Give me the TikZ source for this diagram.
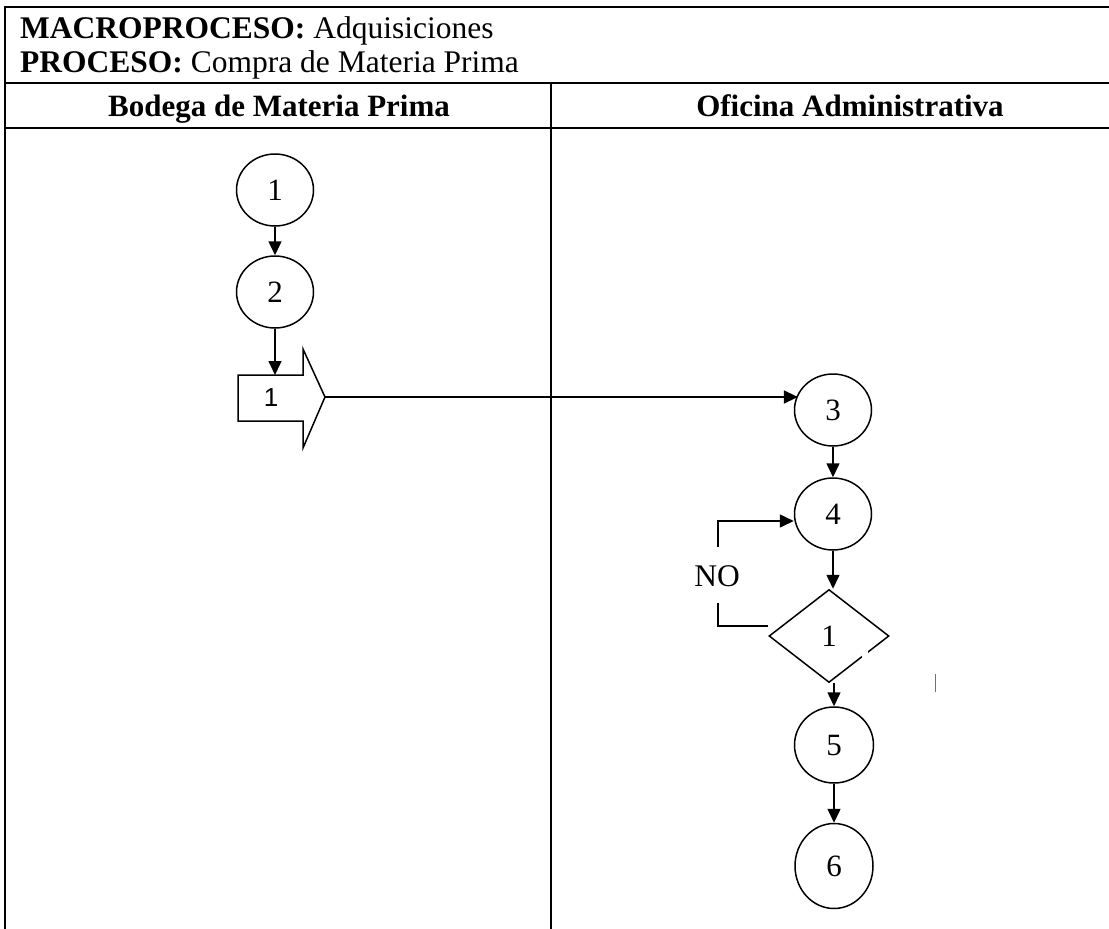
\documentclass[tikz,border=0pt]{standalone}
\usepackage{fontspec}
\setmainfont{Liberation Serif}
\newfontfamily\arrowfont{Liberation Sans}
\usetikzlibrary{shapes.geometric,arrows.meta}
\begin{document}
\begin{tikzpicture}[x=1pt,y=-1pt,
  rule/.style={line width=2.6pt},
  wire/.style={line width=1.5pt},
  conn/.style={line width=1.5pt,-{Triangle[length=14pt,width=13pt]}},
  txt/.style={inner sep=0pt,font=\fontsize{31.5}{36}\selectfont},
  lanetxt/.style={inner sep=0pt,font=\fontsize{31}{36}\selectfont\bfseries},
  proc/.style={draw,line width=1.5pt,ellipse,inner sep=0pt,
    minimum width=77pt,minimum height=72pt,font=\fontsize{31}{36}\selectfont},
  decide/.style={draw,line width=1.5pt,diamond,inner sep=0pt,
    minimum width=120pt,minimum height=93pt,font=\fontsize{31}{36}\selectfont}]
\useasboundingbox (0,0) rectangle (1109,929);

% table frame
\draw[rule] (5,929) -- (5,7) -- (1109,7);
\draw[rule] (5,83) -- (1109,83);
\draw[rule] (5,128) -- (1109,128);
\draw[rule] (551,83) -- (551,929);

% header texts
\node[txt,anchor=base west] (macro) at (20,38) {\textbf{MACROPROCESO:} Adquisiciones};
\node[txt,anchor=base west] (proceso) at (20,72) {\textbf{PROCESO:} Compra de Materia Prima};
\node[lanetxt,anchor=base] (lane1) at (279,116) {Bodega de Materia Prima};
\node[lanetxt,anchor=base] (lane2) at (850,116) {Oficina Administrativa};

% warehouse lane
\node[proc] (c1) at (275,190) {1};
\node[proc] (c2) at (275,292) {2};

% transport arrow
\coordinate (ba-top) at (275,375);
\coordinate (ba-tip) at (325,397);
\draw[wire,line join=miter] (238,375) -- (303,375) -- (303,349) -- (ba-tip)
  -- (303,448) -- (303,421) -- (238,421) -- cycle;
\node[inner sep=0pt,font=\arrowfont\fontsize{26}{30}\selectfont] (ba) at (271,398) {1};

% office lane
\node[proc] (c3) at (833,410) {3};
\node[proc] (c4) at (833,514) {4};
\node[decide] (d1) at (829,636) {1};
\node[proc,minimum width=79pt,minimum height=76pt] (c5) at (834,745) {5};
\node[proc,minimum width=78pt,minimum height=85pt] (c6) at (834,866) {6};
\node[txt] (no) at (717,576) {NO};
\coordinate (lp-b) at (718,603);
\coordinate (lp-t) at (718,547);

% connectors
\draw[conn] (c1.south) -- (c2.north);
\draw[conn] (c2.south) -- (ba-top);
\draw[conn] (ba-tip) -- (ba-tip -| c3.155);
\draw[conn] (c3.south) -- (c4.north);
\draw[conn] (c4.south) -- (c4.south |- d1.north);
\draw[conn] (d1.south -| c5) -- (c5.north);
\draw[conn] (c5.south) -- (c6.north);
\draw[wire] ([yshift=10pt]d1.west) -| (lp-b);
\draw[conn] (lp-t) |- ([yshift=-7pt]c4.west);

% small breaks and marks in the scan
\fill[white] (862,651) rectangle (868,658);
\draw[black!55,line width=1pt] (935,674) -- (935,692);
\end{tikzpicture}
\end{document}
